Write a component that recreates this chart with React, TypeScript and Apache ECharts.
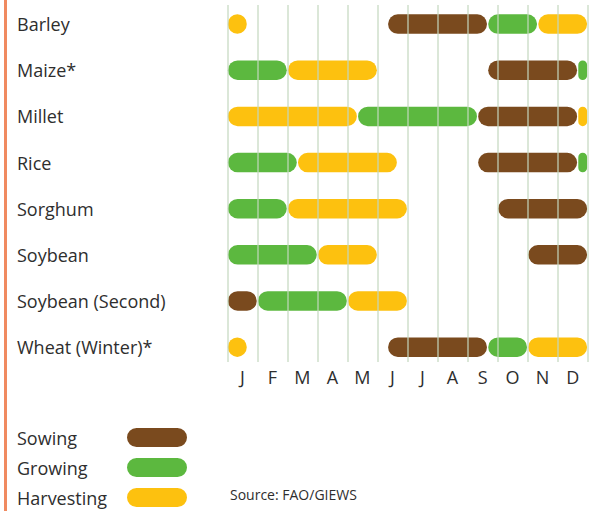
import React, { useEffect, useRef } from "react";
import * as echarts from "echarts";

const crops = ["Barley", "Maize*", "Millet", "Rice", "Sorghum", "Soybean", "Soybean (Second)", "Wheat (Winter)*"];
const months = ["J", "F", "M", "A", "M", "J", "J", "A", "S", "O", "N", "D"];
const phases = ["Sowing", "Growing", "Harvesting"];

// [cropIndex, startDekad, endDekad] (36 dekads per year)
const sowing = [
  [0, 16, 26], [1, 26, 35], [2, 25, 35], [3, 25, 35], [4, 27, 36], [5, 30, 36], [6, 0, 3], [7, 16, 26],
];
const growing = [
  [0, 26, 31], [1, 0, 6], [1, 35, 36], [2, 13, 25], [3, 0, 7], [3, 35, 36], [4, 0, 6], [5, 0, 9], [6, 3, 12], [7, 26, 30],
];
const harvesting = [
  [0, 0, 2], [0, 31, 36], [1, 6, 15], [2, 0, 13], [2, 35, 36], [3, 7, 17], [4, 6, 18], [5, 9, 15], [6, 12, 18], [7, 0, 2], [7, 30, 36],
];

const COLORS = ["#7A4A1E", "#5CB83F", "#FDC10F"];
const FONT = "Open Sans";
const TEXT = "#2e2e2e";

function makeSeries(name: string, data: number[][], color: string) {
  return {
    name,
    type: "custom",
    xAxisIndex: 0,
    yAxisIndex: 0,
    z: -1,
    data,
    encode: { x: [1, 2], y: 0 },
    itemStyle: { color },
    renderItem: (params: any, api: any) => {
      const row = api.value(0);
      const s = api.value(1);
      const e = api.value(2);
      const p1 = api.coord([s, row]);
      const p2 = api.coord([e, row]);
      const h = 19.5;
      const x = p1[0] + 0.6;
      const w = p2[0] - p1[0] - 1.2;
      return {
        type: "rect",
        shape: { x, y: p1[1] - h / 2, width: w, height: h, r: Math.min(h / 2, w / 2) },
        style: { fill: color },
      };
    },
  };
}

function legendGraphics() {
  const out: any[] = [];
  const swatchTops = [428, 458, 488];
  phases.forEach((p, i) => {
    out.push({
      type: "text",
      left: 17,
      top: swatchTops[i] + 9.5 - 12,
      style: { text: p, font: `18px "${FONT}"`, fill: TEXT, lineHeight: 24 },
    });
    out.push({
      type: "rect",
      left: 127,
      top: swatchTops[i],
      shape: { width: 60, height: 19, r: 9.5 },
      style: { fill: COLORS[i] },
    });
  });
  return out;
}

export default function App() {
  const ref = useRef<HTMLDivElement>(null);
  useEffect(() => {
    const chart = echarts.init(ref.current!, null, { renderer: "svg" });
    chart.setOption({
      animation: false,
      backgroundColor: "#ffffff",
      grid: [
        { left: 227.3, width: 360.4, top: 1, height: 369.2 },
        { left: 227.3, width: 360.4, top: 5, height: 357 },
      ],
      xAxis: [
        { type: "value", gridIndex: 0, min: 0, max: 36, show: false },
        {
          type: "category",
          gridIndex: 1,
          data: months,
          boundaryGap: true,
          z: 5,
          zlevel: 1,
          axisLine: { show: false },
          axisTick: { show: false },
          axisLabel: { margin: 6, fontFamily: FONT, fontSize: 18, color: TEXT, interval: 0 },
          splitLine: { show: true, interval: 0, lineStyle: { color: "rgba(195,215,190,0.6)", width: 2 } },
        },
      ],
      yAxis: [
        {
          type: "category",
          gridIndex: 0,
          inverse: true,
          data: crops,
          axisLine: { show: false },
          axisTick: { show: false },
          splitLine: { show: false },
          axisLabel: { margin: 210.3, align: "left", fontFamily: FONT, fontSize: 18, color: TEXT, interval: 0 },
        },
        { type: "value", gridIndex: 1, min: 0, max: 1, show: false },
      ],
      graphic: [
        { type: "rect", left: 4, top: 0, shape: { width: 3, height: 511 }, style: { fill: "#F08A60" } },
        {
          type: "text",
          left: 230,
          top: 487,
          style: { text: "Source: FAO/GIEWS", font: `14px "${FONT}"`, fill: TEXT },
        },
        ...legendGraphics(),
      ],
      series: [
        makeSeries(phases[0], sowing, COLORS[0]),
        makeSeries(phases[1], growing, COLORS[1]),
        makeSeries(phases[2], harvesting, COLORS[2]),
      ],
    });
    return () => chart.dispose();
  }, []);
  return <div ref={ref} style={{ position: "fixed", left: 0, top: 0, width: 595, height: 511 }} />;
}
